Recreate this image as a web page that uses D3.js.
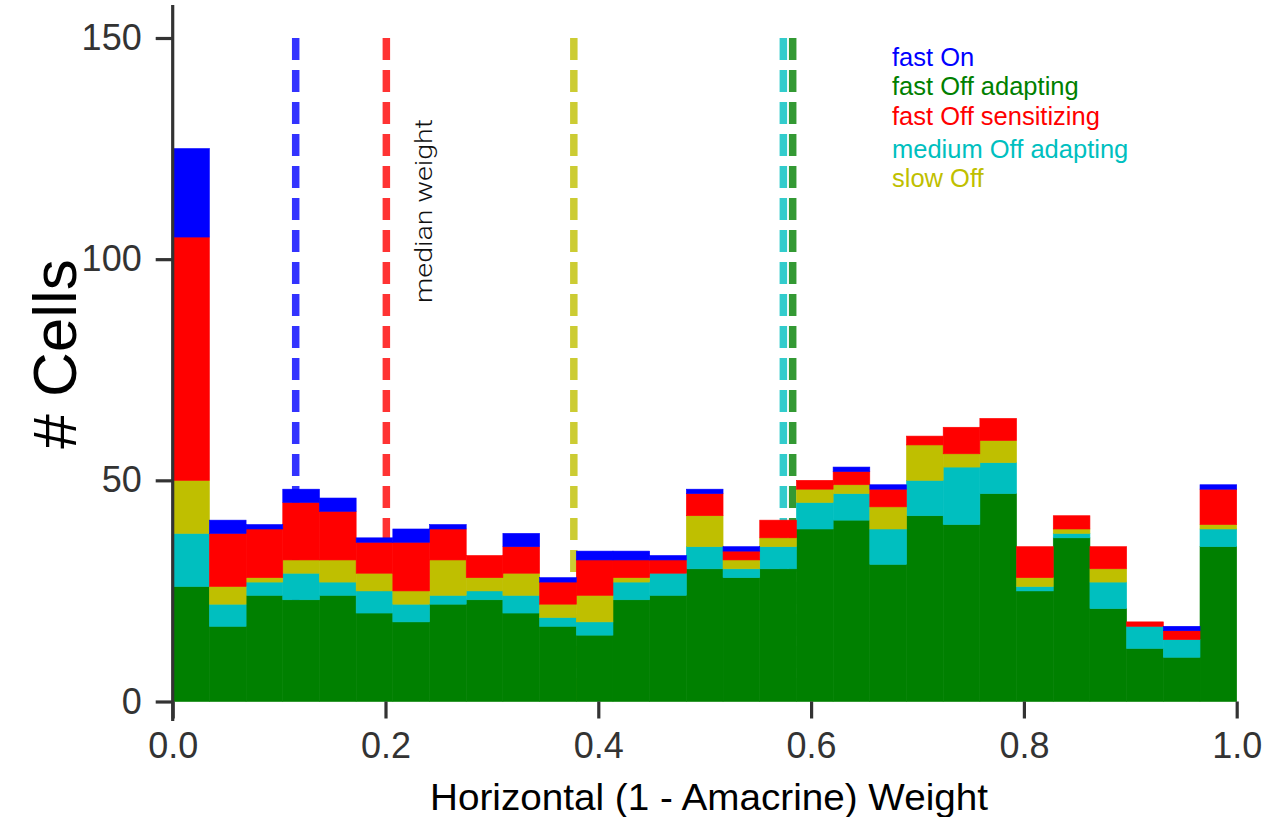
<!DOCTYPE html>
<html>
<head>
<meta charset="utf-8">
<script src="https://cdn.jsdelivr.net/npm/d3@7"></script>
<style>
  html, body { margin: 0; padding: 0; background: #fff; }
  svg { display: block; }
  text { font-family: "Liberation Sans", Arial, Helvetica, sans-serif; }
</style>
</head>
<body>
<svg id="chart" width="1264" height="817"></svg>
<script>
// 29 equal-width bins spanning weight 0..1
const binCount = 29;

// cell counts per bin, one array per cell type (stacked bottom to top)
const fastOffAdapting = [26,17,24,23,24,20,18,22,23,20,17,15,23,24,30,28,30,39,41,31,42,40,47,25,37,21,12,10,35];
const mediumOffAdapting = [12,5,3,6,3,5,4,2,2,4,2,3,4,5,5,2,5,6,6,8,8,13,7,1,1,6,5,4,4];
const slowOff = [12,4,1,3,5,4,3,8,3,5,3,6,1,0,7,2,2,3,2,5,8,3,5,2,1,3,0,0,1];
const fastOffSensitizing = [55,12,11,13,11,7,11,7,5,6,5,8,4,3,5,2,4,2,3,4,2,6,5,7,3,5,1,2,8];
const fastOn = [20,3,1,3,3,1,3,1,0,3,1,2,2,1,1,1,0,0,1,1,0,0,0,0,0,0,0,1,1];

// median weight per cell type
const medianFastOn = 0.1156;
const medianFastOffAdapting = 0.5827;
const medianFastOffSensitizing = 0.2008;
const medianMediumOffAdapting = 0.5739;
const medianSlowOff = 0.3770;

const legendLabels = ["fast On", "fast Off adapting", "fast Off sensitizing", "medium Off adapting", "slow Off"];
const xTicks = [0, 0.2, 0.4, 0.6, 0.8, 1.0];
const yTicks = [0, 50, 100, 150];

const colors = {
  "fast On": "#0000ff",
  "fast Off adapting": "#008000",
  "fast Off sensitizing": "#ff0000",
  "medium Off adapting": "#00bfbf",
  "slow Off": "#bfbf00"
};

const series = [
  { name: "fast Off adapting", values: fastOffAdapting, median: medianFastOffAdapting },
  { name: "medium Off adapting", values: mediumOffAdapting, median: medianMediumOffAdapting },
  { name: "slow Off", values: slowOff, median: medianSlowOff },
  { name: "fast Off sensitizing", values: fastOffSensitizing, median: medianFastOffSensitizing },
  { name: "fast On", values: fastOn, median: medianFastOn }
];

const svg = d3.select("#chart");
const x = d3.scaleLinear().domain([0, 1]).range([172.7, 1236.7]);
const y = d3.scaleLinear().domain([0, 150]).range([701.5, 38]);
const axisColor = "#333333";

// table of rows, one per bin, for d3.stack
const rows = d3.range(binCount).map(i => {
  const r = { i };
  series.forEach(s => { r[s.name] = s.values[i]; });
  return r;
});
const stacked = d3.stack().keys(series.map(s => s.name))(rows);

// dashed median lines (behind the bars)
const medianOrder = ["fast On", "fast Off sensitizing", "slow Off", "medium Off adapting", "fast Off adapting"];
svg.append("g").selectAll("line")
  .data(medianOrder.map(n => series.find(s => s.name === n)))
  .join("line")
  .attr("x1", d => x(d.median)).attr("x2", d => x(d.median))
  .attr("y1", y(150)).attr("y2", y(0))
  .attr("stroke", d => colors[d.name])
  .attr("stroke-opacity", 0.8)
  .attr("stroke-width", 7.5)
  .attr("stroke-dasharray", "22 10");

// stacked histogram bars
const binW = 1 / binCount;
svg.append("g").selectAll("g")
  .data(stacked)
  .join("g")
  .attr("fill", d => colors[d.key])
  .attr("stroke", d => colors[d.key])
  .attr("stroke-width", 0.6)
  .selectAll("rect")
  .data(d => d.filter(p => p[1] - p[0] > 0))
  .join("rect")
  .attr("x", p => x(p.data.i * binW))
  .attr("width", p => x((p.data.i + 1) * binW) - x(p.data.i * binW))
  .attr("y", p => y(p[1]))
  .attr("height", p => y(p[0]) - y(p[1]));

// y axis
const yAxis = svg.append("g").attr("transform", `translate(${x(0)},0)`)
  .call(d3.axisLeft(y).tickValues(yTicks).tickSize(17).tickPadding(14).tickFormat(d3.format("d")));
yAxis.select(".domain").attr("d", `M0,5V721`);
yAxis.selectAll("path, line").attr("stroke", axisColor).attr("stroke-width", 3.2);
yAxis.selectAll("text").attr("font-size", 36).attr("fill", axisColor)
  .attr("font-family", "'Liberation Sans', Arial, sans-serif");

// x axis (ticks only)
const xAxis = svg.append("g").attr("transform", `translate(0,${y(0)})`)
  .call(d3.axisBottom(x).tickValues(xTicks).tickSize(17).tickPadding(14).tickFormat(d3.format(".1f")));
xAxis.select(".domain").remove();
xAxis.selectAll("line").attr("stroke", axisColor).attr("stroke-width", 3.2);
xAxis.selectAll("text").attr("font-size", 36).attr("fill", axisColor)
  .attr("font-family", "'Liberation Sans', Arial, sans-serif");

// axis titles
svg.append("text")
  .attr("x", 709).attr("y", 810)
  .attr("text-anchor", "middle")
  .attr("font-size", 37).attr("fill", "#000")
  .attr("textLength", 558).attr("lengthAdjust", "spacingAndGlyphs")
  .text("Horizontal (1 - Amacrine) Weight");

svg.append("text")
  .attr("transform", "translate(76,354) rotate(-90)")
  .attr("text-anchor", "middle")
  .attr("font-size", 62).attr("fill", "#000")
  .text("# Cells");

// median annotation
svg.append("text")
  .attr("transform", "translate(432,211) rotate(-90)")
  .attr("text-anchor", "middle")
  .attr("font-size", 23).attr("font-weight", 300).attr("fill", "#111")
  .style("font-family", "Roboto, 'Liberation Sans', sans-serif")
  .attr("textLength", 184).attr("lengthAdjust", "spacingAndGlyphs")
  .text("median weight");

// legend
const legendBaselines = [65.7, 95, 125, 157.7, 186.7];
svg.append("g").selectAll("text")
  .data(legendLabels)
  .join("text")
  .attr("x", 892)
  .attr("y", (d, i) => legendBaselines[i])
  .attr("font-size", 25.5)
  .attr("fill", d => colors[d])
  .text(d => d);
</script>
</body>
</html>
